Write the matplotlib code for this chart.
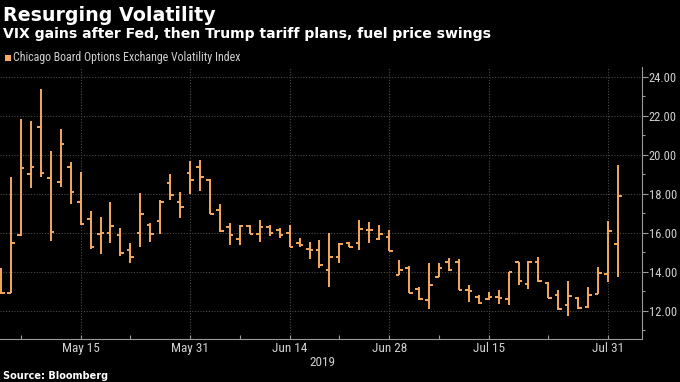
import matplotlib
matplotlib.use('Agg')
import matplotlib.pyplot as plt
import numpy as np
from matplotlib import font_manager
from matplotlib.ticker import FixedLocator, MultipleLocator, FormatStrFormatter

# VIX daily OHLC, May 3 - Aug 1 2019
dates = ['May 3', 'May 6', 'May 7', 'May 8', 'May 9', 'May 10', 'May 13', 'May 14', 'May 15', 'May 16',
         'May 17', 'May 20', 'May 21', 'May 22', 'May 23', 'May 24', 'May 28', 'May 29', 'May 30', 'May 31',
         'Jun 3', 'Jun 4', 'Jun 5', 'Jun 6', 'Jun 7', 'Jun 10', 'Jun 11', 'Jun 12', 'Jun 13', 'Jun 14',
         'Jun 17', 'Jun 18', 'Jun 19', 'Jun 20', 'Jun 21', 'Jun 24', 'Jun 25', 'Jun 26', 'Jun 27', 'Jun 28',
         'Jul 1', 'Jul 2', 'Jul 3', 'Jul 5', 'Jul 8', 'Jul 9', 'Jul 10', 'Jul 11', 'Jul 12', 'Jul 15',
         'Jul 16', 'Jul 17', 'Jul 18', 'Jul 19', 'Jul 22', 'Jul 23', 'Jul 24', 'Jul 25', 'Jul 26', 'Jul 29',
         'Jul 30', 'Jul 31', 'Aug 1']
opens = [14.00, 12.89, 15.90, 18.99, 21.40, 18.80, 18.62, 19.38, 17.59, 16.70,
         15.91, 15.97, 15.88, 15.11, 15.97, 16.39, 16.61, 18.55, 17.58, 19.06,
         19.37, 18.72, 17.16, 16.27, 15.66, 16.34, 15.96, 16.31, 16.14, 15.97,
         15.49, 15.18, 15.09, 14.07, 14.75, 15.47, 15.47, 16.12, 15.69, 15.78,
         13.85, 14.21, 13.10, 12.55, 13.71, 14.51, 14.51, 13.06, 12.72, 12.58,
         12.68, 12.58, 14.51, 13.37, 14.52, 13.44, 12.80, 12.30, 12.64, 12.17,
         12.86, 13.89, 15.43]
highs = [14.17, 18.84, 21.81, 21.73, 23.35, 20.19, 21.30, 19.64, 19.13, 17.11,
         16.82, 17.59, 16.26, 15.45, 18.05, 16.48, 17.67, 19.03, 18.09, 19.68,
         19.71, 18.77, 17.46, 16.51, 16.39, 16.39, 16.64, 16.39, 16.22, 16.39,
         15.71, 15.52, 15.64, 15.98, 15.47, 15.52, 16.67, 16.55, 16.38, 16.12,
         14.58, 14.27, 13.20, 14.43, 14.46, 14.68, 14.63, 13.32, 12.80, 12.97,
         13.06, 14.00, 14.51, 14.55, 14.74, 13.49, 13.07, 13.54, 12.72, 13.20,
         14.23, 16.58, 19.49]
lows = [12.87, 12.89, 15.83, 18.31, 18.87, 15.57, 18.36, 17.47, 16.39, 15.16,
        14.89, 15.49, 14.82, 14.46, 15.28, 15.54, 15.93, 17.67, 16.73, 18.00,
        18.14, 16.98, 16.05, 15.37, 15.37, 15.93, 15.54, 15.83, 15.71, 15.25,
        15.28, 14.67, 14.21, 13.21, 14.44, 15.26, 15.09, 15.47, 15.64, 15.04,
        13.81, 12.91, 12.55, 12.07, 13.71, 14.05, 13.06, 12.46, 12.34, 12.55,
        12.34, 12.29, 13.32, 13.12, 13.49, 12.64, 12.04, 11.73, 12.07, 12.12,
        12.86, 13.49, 13.75]
closes = [12.89, 15.49, 19.33, 19.38, 19.08, 16.05, 20.56, 18.07, 16.44, 15.28,
          15.97, 16.36, 14.97, 14.73, 16.94, 15.91, 17.58, 17.92, 17.33, 18.69,
          18.86, 16.98, 16.08, 15.88, 16.34, 15.93, 16.27, 16.00, 15.88, 15.25,
          15.37, 15.09, 14.32, 14.75, 15.44, 15.26, 16.21, 16.15, 15.95, 15.04,
          14.10, 12.91, 12.58, 13.32, 14.17, 14.09, 13.06, 13.03, 12.38, 12.68,
          12.63, 14.00, 13.54, 14.50, 13.54, 12.64, 12.07, 12.76, 12.12, 12.81,
          13.96, 16.11, 17.89]
label_dates = ['May 15', 'May 31', 'Jun 14', 'Jun 28', 'Jul 15', 'Jul 31']
minor_dates = ['May 7', 'May 22', 'Jun 7', 'Jun 21', 'Jul 8', 'Jul 23']

names = {f.name for f in font_manager.fontManager.ttflist}
narrow = next((n for n in ['Liberation Sans Narrow', 'DejaVu Sans Condensed', 'Roboto Condensed']
               if n in names), 'DejaVu Sans')

BAR = '#f5a95c'
GRID = '#4a4a4a'
AXIS = '#9a9a9a'
TXT = '#d0d0d0'

fig = plt.figure(figsize=(6.8, 3.82), dpi=100, facecolor='black')
ax = fig.add_axes([0.0, 0.1126, 0.944, 0.712])
ax.set_facecolor('black')

x = np.arange(len(dates))
w = 0.36
ax.vlines(x, lows, highs, color=BAR, lw=1.4, zorder=3)
ax.hlines(opens, x - w, x, color=BAR, lw=1.4, zorder=3)
ax.hlines(closes, x, x + w, color=BAR, lw=1.4, zorder=3)

ax.set_xlim(-0.1, 64.4)
ax.set_ylim(10.55, 24.5)

# y axis on the right
ax.yaxis.tick_right()
ax.yaxis.set_major_locator(MultipleLocator(2))
ax.yaxis.set_minor_locator(MultipleLocator(1))
ax.yaxis.set_major_formatter(FormatStrFormatter('%.2f'))
ax.tick_params(axis='y', which='major', direction='out', length=4, width=0.8, color=AXIS,
               labelcolor=TXT, labelsize=9, pad=1)
ax.tick_params(axis='y', which='minor', direction='out', length=2.5, width=0.8, color=AXIS)

# x axis with date labels
ax.xaxis.set_major_locator(FixedLocator([dates.index(d) for d in label_dates]))
ax.xaxis.set_minor_locator(FixedLocator([dates.index(d) for d in minor_dates]))
ax.set_xticklabels(label_dates)
ax.tick_params(axis='x', which='both', direction='in', length=3, width=0.8, color=AXIS,
               labelcolor=TXT, labelsize=9.5, pad=2.5)
for lab in ax.get_xticklabels() + ax.get_yticklabels():
    lab.set_fontfamily(narrow)

ax.grid(True, which='major', color=GRID, ls=(0, (1, 1.5)), lw=0.8)
for s in ['left', 'top']:
    ax.spines[s].set_visible(False)
for s in ['right', 'bottom']:
    ax.spines[s].set_color(AXIS)
    ax.spines[s].set_linewidth(0.8)

fig.text(322 / 680, 1 - 366 / 382, '2019', color=TXT, fontsize=9.5, family=narrow, ha='center', va='baseline')

# titles and legend
fig.text(0.004, 1 - 20.7 / 382, 'Resurging Volatility', color='white', fontsize=13.7, fontweight='bold', va='baseline')
fig.text(0.004, 1 - 38 / 382, 'VIX gains after Fed, then Trump tariff plans, fuel price swings',
         color='white', fontsize=10.1, fontweight='bold', va='baseline')
fig.patches.append(plt.Rectangle((5 / 680, 1 - 61 / 382), 6 / 680, 6 / 382, transform=fig.transFigure,
                                 facecolor=BAR, edgecolor='none'))
fig.text(13 / 680, 1 - 61 / 382, 'Chicago Board Options Exchange Volatility Index', color=TXT,
         fontsize=8.6, family=narrow, va='baseline')
fig.text(0.004, 1 - 379 / 382, 'Source: Bloomberg', color='white', fontsize=7, fontweight='bold', va='baseline')

fig.savefig('out.png', dpi=100, facecolor='black')
